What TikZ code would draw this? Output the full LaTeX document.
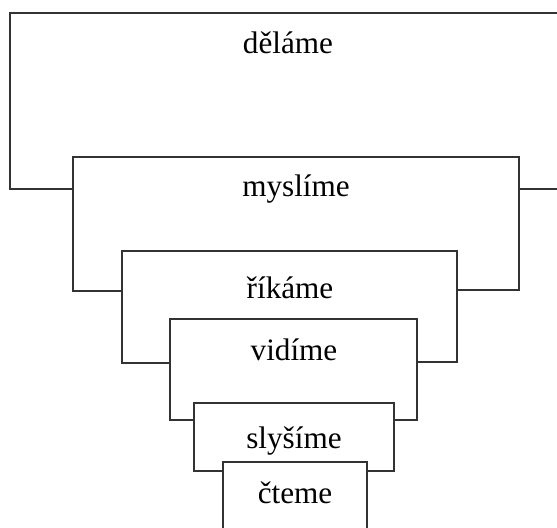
\documentclass[tikz,border=0pt]{standalone}
\usepackage{fontspec}
\setmainfont{Liberation Serif}

\tikzstyle{level} = [draw=black!80, line width=0.6pt]
\tikzstyle{word} = [anchor=base, inner sep=0pt, font=\fontsize{15.6}{18}\selectfont]

\begin{document}
\begin{tikzpicture}[x=0.5pt, y=-0.5pt]
	\useasboundingbox (0,0) rectangle (557,527);
	\clip (0,0) rectangle (557,527);
	\draw[level] (73,189) -- (10,189) -- (10,13) -- (566,13) -- (566,189) -- (519,189);
	\draw[level] (122,291) -- (73,291) -- (73,157) -- (519,157) -- (519,290) -- (457,290);
	\draw[level] (170,363) -- (122,363) -- (122,251) -- (457,251) -- (457,362) -- (417,362);
	\draw[level] (194,420) -- (170,420) -- (170,319) -- (417,319) -- (417,420) -- (394,420);
	\draw[level] (223,471) -- (194,471) -- (194,403) -- (394,403) -- (394,471) -- (367,471);
	\draw[level] (223,540) -- (223,462) -- (367,462) -- (367,540);
	\node[word] (delame) at (288,53) {děláme};
	\node[word] (myslime) at (296,196) {myslíme};
	\node[word] (rikame) at (290,298) {říkáme};
	\node[word] (vidime) at (294,360) {vidíme};
	\node[word] (slysime) at (294,448) {slyšíme};
	\node[word] (cteme) at (295,503) {čteme};
\end{tikzpicture}
\end{document}
